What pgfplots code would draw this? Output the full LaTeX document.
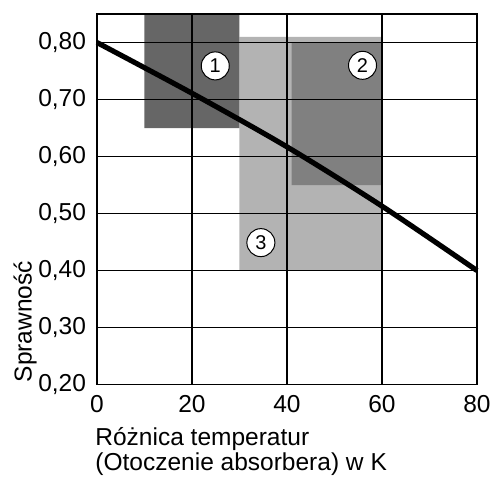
\documentclass[border=0pt]{standalone}
\usepackage{pgfplots}
\pgfplotsset{compat=1.18}
\usepackage{fontspec}
\setmainfont{Liberation Sans}
\definecolor{gDark}{HTML}{666666}
\definecolor{gMid}{HTML}{808080}
\definecolor{gLight}{HTML}{B3B3B3}
\begin{document}
\begin{tikzpicture}
    \begin{axis}[
        scale only axis,
        width=190bp, height=185.3bp,
        xmin=0, xmax=80,
        ymin=0.2, ymax=0.85,
        xtick={0,20,40,60,80},
        ytick={0.2,0.3,0.4,0.5,0.6,0.7,0.8},
        grid=major,
        grid style={black, line width=0.75pt},
        axis line style={black, line width=0.75pt},
        major tick length=0pt,
        axis on top,
        font=\fontsize{12.3}{13}\selectfont,
        /pgf/number format/assume math mode=true,
        yticklabel style={/pgf/number format/.cd, use comma, fixed, fixed zerofill, precision=2},
        xticklabel style={/pgf/number format/.cd, fixed, precision=0},
        yticklabel shift=2bp,
        xticklabel shift=2bp,
        xlabel={Różnica temperatur\\(Otoczenie absorbera) w K},
        xlabel style={at={(axis description cs:0,0)}, anchor=north west,
            align=left, inner sep=0pt, yshift=-21bp, xshift=-1bp},
        ylabel={Sprawność},
        ylabel style={at={(axis description cs:0,0)}, anchor=south west,
            inner sep=0pt, yshift=30bp, xshift=1bp},
        clip=false,
    ]
    % obszar 3
    \addplot [fill=gLight, draw=none] coordinates {
        (30,0.40) (60,0.40) (60,0.81) (30,0.81) (30,0.40)
    };
    % obszar 2
    \addplot [fill=gMid, draw=none] coordinates {
        (41,0.55) (60,0.55) (60,0.80) (41,0.80) (41,0.55)
    };
    % obszar 1
    \addplot [fill=gDark, draw=none] coordinates {
        (10,0.65) (30,0.65) (30,0.85) (10,0.85) (10,0.65)
    };
    % krzywa sprawnosci
    \addplot [black, line width=2.6pt, mark=none, smooth] coordinates {
        (0,0.800)
        (20,0.711)
        (40,0.617)
        (60,0.513)
        (80,0.400)
    };
    \tikzset{nr/.style={circle, draw=black, fill=white, line width=0.5pt,
        inner sep=0pt, minimum size=14bp, font=\fontsize{10}{11}\selectfont}}
    \node [nr] at (axis cs:24.9,0.759) {1};
    \node [nr] at (axis cs:55.9,0.760) {2};
    \node [nr] at (axis cs:34.5,0.449) {3};
    \end{axis}
    \pgfresetboundingbox
    \useasboundingbox (-48.5bp,-46.7bp) rectangle (196.5bp,192.3bp);
\end{tikzpicture}
\end{document}
